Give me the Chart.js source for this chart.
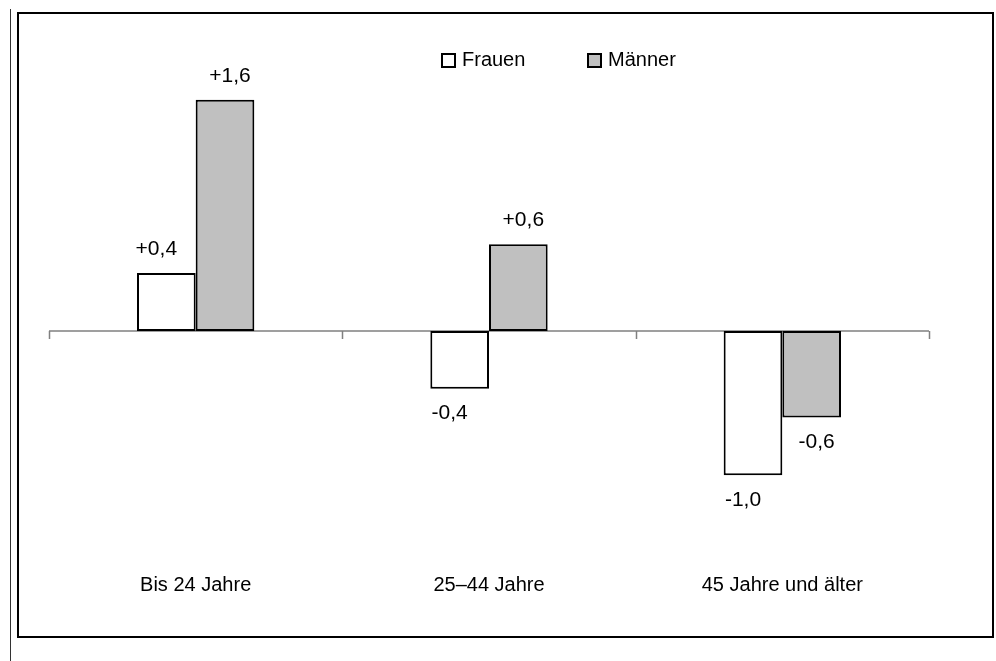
<!DOCTYPE html>
<html lang="de">
<head>
  <meta charset="UTF-8">
  <title>Veränderung nach Alter</title>
  <script src="https://cdn.jsdelivr.net/npm/chart.js"></script>
  <style>
    html, body { margin: 0; padding: 0; background: #fff; }
    #wrap { position: relative; width: 996px; height: 661px; font-family: "Liberation Sans", Arial, sans-serif; }
    #chart { position: absolute; left: 0; top: 0; }
    .frame { position: absolute; left: 17px; top: 12px; width: 977px; height: 626px; border: 2px solid #000; box-sizing: border-box; pointer-events: none; }
    .sideline { position: absolute; left: 10px; top: 9px; width: 1px; height: 652px; background: #333; }
    .legend span.item { position: absolute; top: 48px; font-size: 20px; color: #000; white-space: nowrap; }
    .legend i { display: inline-block; width: 15px; height: 15px; border: 2px solid #000; box-sizing: border-box; vertical-align: -2px; margin-right: 6px; }
  </style>
</head>
<body>
<div id="wrap">
  <div class="sideline"></div>
  <div class="frame"></div>
  <canvas id="chart" width="996" height="661"></canvas>
  <div class="legend" id="legend"></div>
</div>
<script>
  // Daten
  const categories = ['Bis 24 Jahre', '25–44 Jahre', '45 Jahre und älter'];
  const frauen = [0.4, -0.4, -1.0];
  const maenner = [1.6, 0.6, -0.6];
  const seriesNames = ['Frauen', 'Männer'];
  const seriesColors = ['#ffffff', '#c0c0c0'];

  const fontFamily = '"Liberation Sans", Arial, sans-serif';

  // Legende als HTML
  const legendLeft = [441, 587];
  document.getElementById('legend').innerHTML = seriesNames.map((n, i) =>
    `<span class="item" style="left:${legendLeft[i]}px"><i style="background:${seriesColors[i]}"></i>${n}</span>`).join('');

  function fmt(v) {
    return (v > 0 ? '+' : '') + v.toFixed(1).replace('.', ',');
  }

  // Nulllinie mit Teilstrichen zwischen den Kategorien
  const zeroAxis = {
    id: 'zeroAxis',
    beforeDatasetsDraw(chart) {
      const { ctx, chartArea: a, scales } = chart;
      const y = scales.y.getPixelForValue(0);
      const n = categories.length;
      ctx.save();
      ctx.strokeStyle = '#808080';
      ctx.lineWidth = 1.5;
      ctx.beginPath();
      ctx.moveTo(a.left, y);
      ctx.lineTo(a.right, y);
      for (let i = 0; i <= n; i++) {
        const x = Math.round(a.left + i * (a.right - a.left) / n) + 0.5;
        ctx.moveTo(x, y);
        ctx.lineTo(x, y + 8);
      }
      ctx.stroke();
      ctx.restore();
    }
  };

  // Werte an den Balken
  const valueLabels = {
    id: 'valueLabels',
    afterDatasetsDraw(chart) {
      const { ctx } = chart;
      const dx = [-10, 5];
      ctx.save();
      ctx.font = '21px ' + fontFamily;
      ctx.fillStyle = '#000';
      ctx.textAlign = 'center';
      ctx.textBaseline = 'middle';
      chart.data.datasets.forEach((ds, di) => {
        chart.getDatasetMeta(di).data.forEach((bar, i) => {
          const v = ds.data[i];
          const y = v >= 0 ? bar.y - 24 : bar.y + 25;
          ctx.fillText(fmt(v), bar.x + dx[di], y);
        });
      });
      ctx.restore();
    }
  };

  new Chart(document.getElementById('chart'), {
    type: 'bar',
    data: {
      labels: categories,
      datasets: [
        { label: seriesNames[0], data: frauen, backgroundColor: seriesColors[0] },
        { label: seriesNames[1], data: maenner, backgroundColor: seriesColors[1] }
      ]
    },
    options: {
      responsive: false,
      animation: false,
      layout: { padding: { top: 42, left: 49, right: 67, bottom: 53 } },
      datasets: {
        bar: {
          borderColor: '#000',
          borderWidth: 2,
          borderSkipped: false,
          categoryPercentage: 0.4,
          barPercentage: 1.0
        }
      },
      plugins: {
        legend: { display: false },
        tooltip: { enabled: false }
      },
      scales: {
        x: {
          grid: { display: false, drawTicks: false },
          border: { display: false },
          ticks: { color: '#000', padding: 11, maxRotation: 0, font: { size: 20, family: fontFamily } }
        },
        y: {
          display: false,
          min: -1.6,
          max: 2.0
        }
      }
    },
    plugins: [zeroAxis, valueLabels]
  });
</script>
</body>
</html>
